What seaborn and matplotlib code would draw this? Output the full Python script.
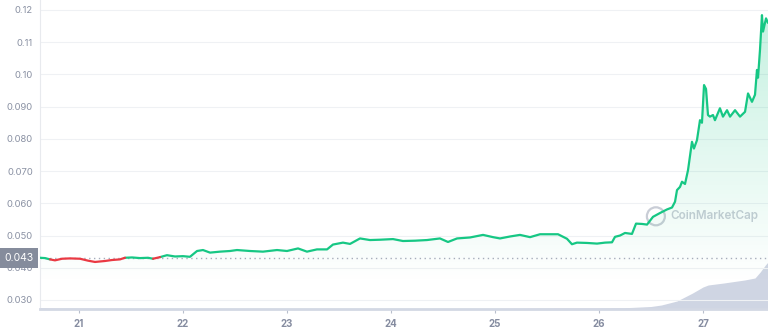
import numpy as np
import pandas as pd
import matplotlib
matplotlib.use("Agg")
import matplotlib.pyplot as plt
from matplotlib.colors import LinearSegmentedColormap
from matplotlib.patches import Ellipse
import seaborn as sns

# ---- data ----
days = [20.625, 20.673, 20.721, 20.769, 20.837, 20.913, 21.010, 21.087, 21.154, 21.250,
        21.317, 21.394, 21.442, 21.510, 21.587, 21.663, 21.712, 21.779, 21.846, 21.923,
        22.000, 22.067, 22.135, 22.192, 22.260, 22.356, 22.452, 22.519, 22.644, 22.769,
        22.904, 23.000, 23.106, 23.192, 23.288, 23.385, 23.442, 23.538, 23.606, 23.702,
        23.798, 23.894, 24.019, 24.115, 24.231, 24.346, 24.471, 24.548, 24.635, 24.760,
        24.885, 24.981, 25.048, 25.144, 25.240, 25.337, 25.433, 25.500, 25.606, 25.692,
        25.740, 25.788, 25.885, 25.981, 26.058, 26.125, 26.154, 26.202, 26.250, 26.317,
        26.356, 26.413, 26.462, 26.519, 26.587, 26.654, 26.702, 26.731, 26.750, 26.779,
        26.798, 26.827, 26.856, 26.894, 26.913, 26.942, 26.971, 26.990, 27.010, 27.029,
        27.048, 27.067, 27.096, 27.115, 27.163, 27.192, 27.231, 27.260, 27.308, 27.356,
        27.404, 27.433, 27.471, 27.500, 27.519, 27.529, 27.548, 27.567, 27.577, 27.606,
        27.625]
prices = [0.0431, 0.0430, 0.0426, 0.0423, 0.0428, 0.0429, 0.0428, 0.0422, 0.0418, 0.0421,
          0.0424, 0.0426, 0.0431, 0.0432, 0.0430, 0.0431, 0.0428, 0.0433, 0.0439, 0.0435,
          0.0436, 0.0434, 0.0452, 0.0455, 0.0447, 0.0450, 0.0452, 0.0455, 0.0452, 0.0450,
          0.0455, 0.0452, 0.0460, 0.0450, 0.0457, 0.0457, 0.0472, 0.0478, 0.0474, 0.0491,
          0.0486, 0.0487, 0.0489, 0.0483, 0.0484, 0.0486, 0.0491, 0.0480, 0.0491, 0.0494,
          0.0502, 0.0495, 0.0491, 0.0497, 0.0502, 0.0495, 0.0504, 0.0504, 0.0504, 0.0490,
          0.0473, 0.0478, 0.0477, 0.0475, 0.0478, 0.0479, 0.0496, 0.0500, 0.0508, 0.0505,
          0.0537, 0.0536, 0.0534, 0.0558, 0.0570, 0.0581, 0.0587, 0.0605, 0.0641, 0.0651,
          0.0667, 0.0660, 0.0703, 0.0791, 0.0770, 0.0796, 0.0858, 0.0850, 0.0967, 0.0955,
          0.0874, 0.0869, 0.0874, 0.0858, 0.0895, 0.0869, 0.0889, 0.0869, 0.0889, 0.0869,
          0.0884, 0.0941, 0.0915, 0.0937, 0.1014, 0.0990, 0.1076, 0.1184, 0.1133, 0.1174,
          0.1160]

vol_days = [20.625, 20.72, 21.5, 23.0, 25.0, 25.6, 26.0, 26.3, 26.5, 26.6, 26.75, 26.9,
            27.0, 27.05, 27.2, 27.4, 27.5, 27.55, 27.6, 27.625]
volumes = [1.5, 1.0, 0.5, 0.5, 0.5, 1.0, 1.0, 1.5, 2.5, 4.0, 8.0, 16.0,
           22.0, 24.0, 26.0, 29.0, 31.0, 37.0, 44.0, 47.0]

ref_price = 0.043
y_ticks = [0.030, 0.040, 0.050, 0.060, 0.070, 0.080, 0.090, 0.10, 0.11, 0.12]
y_labels = ["0.030", "0.040", "0.050", "0.060", "0.070", "0.080", "0.090", "0.10", "0.11", "0.12"]
x_ticks = [21, 22, 23, 24, 25, 26, 27]
x_labels = ["21", "22", "23", "24", "25", "26", "27"]

GREEN = "#16c784"
RED = "#ea3943"

sns.set_theme(style="white")
plt.rcParams["font.family"] = ["Inter", "DejaVu Sans"]

fig = plt.figure(figsize=(7.68, 3.31), dpi=100)
rect = [40 / 768, 1 - 309 / 331, 728 / 768, 309 / 331]
ax2 = fig.add_axes(rect)
ax = fig.add_axes(rect, sharex=ax2)
ax.patch.set_visible(False)

xmin, xmax = 20.625, 27.625
ymin, ymax = 0.0272, 0.1231

# volume (behind)
ax2.fill_between(vol_days, volumes, 0, color="#cfd5e3", lw=0)
ax2.set_ylim(0, 309)
ax2.set_yticks([])
for s in ax2.spines.values():
    s.set_visible(False)

# gradient fill under price
cmap = LinearSegmentedColormap.from_list(
    "g", [(0.086, 0.78, 0.52, 0.0), (0.086, 0.78, 0.52, 0.26)])
grad = np.linspace(0, 1, 256).reshape(-1, 1)
im = ax.imshow(grad, extent=[xmin, xmax, 0.035, ymax], origin="lower",
               aspect="auto", cmap=cmap, vmin=0, vmax=1, zorder=1)
poly = ax.fill_between(days, prices, ymin, color="none", lw=0)
im.set_clip_path(poly.get_paths()[0], transform=ax.transData)

# split line into red/green segments (adjacent segments share one point)
rows = []
seg = 0
cur = None
for i, (d, p) in enumerate(zip(days, prices)):
    c = "up" if p >= ref_price else "down"
    if cur is not None and c != cur:
        rows.append((d, p, cur, seg))
        seg += 1
    cur = c
    rows.append((d, p, cur, seg))
df = pd.DataFrame(rows, columns=["day", "price", "trend", "seg"])
sns.lineplot(data=df, x="day", y="price", hue="trend", units="seg", estimator=None,
             palette={"up": GREEN, "down": RED}, lw=1.6, legend=False, ax=ax,
             sort=False, zorder=3)

# reference dotted line
ax.axhline(ref_price, color="#a6adbb", lw=1.0, ls=(0, (1, 2.5)), zorder=2)

ax.set_xlim(xmin, xmax)
ax.set_ylim(ymin, ymax)
ax.set_yticks(y_ticks)
ax.set_yticklabels(y_labels)
ax.set_xticks(x_ticks)
ax.set_xticklabels(x_labels, fontweight="bold")
ax.set_xlabel("")
ax.set_ylabel("")
ax.grid(axis="y", color="#eff1f4", lw=0.8)
ax.grid(axis="x", visible=False)
ax.tick_params(axis="y", length=0, pad=5, labelsize=6.8, labelcolor="#8a91a3")
ax.tick_params(axis="x", bottom=True, length=3, width=0.8, color="#b8bfcc", pad=4,
               labelsize=7, labelcolor="#858ca0", direction="out")
for k in ["top", "right"]:
    ax.spines[k].set_visible(False)
ax.spines["left"].set_color("#e8eaee")
ax.spines["left"].set_linewidth(0.8)
ax.spines["bottom"].set_color("#d3d8e4")
ax.spines["bottom"].set_linewidth(2.0)
ax2.tick_params(axis="x", bottom=False, labelbottom=False)

# reference price label
ax.text(-0.009, ref_price, "0.043", transform=ax.get_yaxis_transform(),
        ha="right", va="center", fontsize=7.5, color="white", zorder=6,
        bbox=dict(boxstyle="square,pad=0.45", fc="#858c9c", ec="none"))

# watermark
ax.text(0.866, 0.30, "CoinMarketCap", transform=ax.transAxes, fontsize=8.4,
        color="#c9cdd6", fontweight="semibold", ha="left", va="center", zorder=0)
ell = Ellipse((0.846, 0.30), width=18 / 728, height=18 / 309, transform=ax.transAxes,
              fill=False, ec="#c9cdd6", lw=1.6, zorder=0)
ax.add_patch(ell)

fig.savefig("out.png", dpi=100)
